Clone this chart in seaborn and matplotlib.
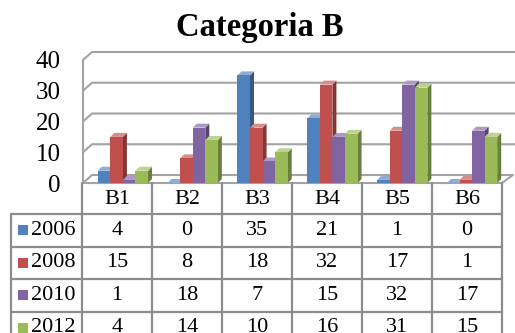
import numpy as np
import pandas as pd
import seaborn as sns
import matplotlib
matplotlib.use("Agg")
import matplotlib.pyplot as plt
from matplotlib.patches import Polygon
from matplotlib.transforms import IdentityTransform
import matplotlib.colors as mcolors

# ---- data ----
categories = ["B1", "B2", "B3", "B4", "B5", "B6"]
years = ["2006", "2008", "2010", "2012"]
v2006 = [4, 0, 35, 21, 1, 0]
v2008 = [15, 8, 18, 32, 17, 1]
v2010 = [1, 18, 7, 15, 32, 17]
v2012 = [4, 14, 10, 16, 31, 15]
series = [v2006, v2008, v2010, v2012]
colors = ["#4F81BD", "#C0504D", "#8064A2", "#9BBB59"]
yticks = [0, 10, 20, 30, 40]
title = "Categoria B"

df = pd.DataFrame({
    "categoria": np.tile(categories, len(years)),
    "anno": np.repeat(years, len(categories)),
    "valore": np.concatenate(series),
})

W, H = 515, 333
sns.set_theme(style="white")
plt.rcParams["font.family"] = ["Liberation Serif", "DejaVu Serif"]

fig = plt.figure(figsize=(W / 100, H / 100), dpi=100)

# overlay in pixel coordinates (origin top-left) for walls and table
bg = fig.add_axes([0, 0, 1, 1], zorder=0)
bg.set_xlim(0, W)
bg.set_ylim(H, 0)
bg.axis("off")

fx0, fx1 = 83, 502      # front plane, left/right
fy0, fy1 = 183, 60      # front plane, y of 0 and of the top value
ddx, ddy = 9, 8         # wall depth
ymax = yticks[-1]
grid_c = "#A3A3A3"
line_c = "#8C8C8C"


def py(v):
    return fy0 + (fy1 - fy0) * v / ymax


# side wall + back wall gridlines
for v in yticks:
    y = py(v)
    xe = fx1 + ddx + 2 if v == 0 else W
    bg.plot([fx0, fx0 + ddx, xe], [y, y - ddy, y - ddy], color=grid_c, lw=1.5,
            solid_capstyle="butt")
# floor front edge and right edge
bg.plot([fx0, fx1, fx1 + ddx + 2], [fy0, fy0, fy0 - ddy], color=grid_c, lw=1.5)
# vertical axis line
bg.plot([fx0, fx0], [py(0), py(ymax)], color=grid_c, lw=1.5)

# ---- bars ----
ax = fig.add_axes([fx0 / W, 1 - fy0 / H, (fx1 - fx0) / W, (fy0 - fy1) / H], zorder=1)
ax.patch.set_alpha(0)
sns.barplot(data=df, x="categoria", y="valore", hue="anno", hue_order=years,
            order=categories, palette=colors, saturation=1, width=0.72, gap=0,
            linewidth=0, legend=False, ax=ax)
shift = 5 / 70
ax.set_xlim(-0.5 - shift, len(categories) - 0.5 - shift)
ax.set_ylim(0, ymax)
ax.set_yticks(yticks)
ax.set_yticklabels([str(t) for t in yticks], fontsize=18, color="black",
                   family="Liberation Serif")
ax.tick_params(axis="y", length=0, pad=16)
ax.set_xticks([])
ax.set_xlabel("")
ax.set_ylabel("")
for s in ax.spines.values():
    s.set_visible(False)

# 3-D top and side faces built from each bar's geometry
bdx, bdy = 4, 4
for p in list(ax.patches):
    x, y, w, h = p.get_x(), p.get_y(), p.get_width(), p.get_height()
    (xl, yb), (xr, yt) = ax.transData.transform([(x, y), (x + w, y + h)])
    base = np.array(mcolors.to_rgb(p.get_facecolor()))
    top_c = base + (1 - base) * 0.35
    side_c = base * 0.68
    top = Polygon([(xl, yt), (xr, yt), (xr + bdx, yt + bdy), (xl + bdx, yt + bdy)],
                  closed=True, facecolor=top_c, edgecolor="none",
                  transform=IdentityTransform(), clip_on=False, zorder=0.8)
    side = Polygon([(xr, yb), (xr, yt), (xr + bdx, yt + bdy), (xr + bdx, yb + bdy)],
                   closed=True, facecolor=side_c, edgecolor="none",
                   transform=IdentityTransform(), clip_on=False, zorder=0.8)
    ax.add_artist(side)
    ax.add_artist(top)
    p.set_zorder(1)
    p.set_edgecolor("none")

# ---- data table ----
tx0 = 11
col_x = [82 + 70 * i for i in range(len(categories) + 1)]
row_y = [183, 214, 246.5, 279, 311.5, 344]
fs = 16
tf = dict(fontsize=fs, family="Liberation Serif", color="black")
for x in col_x:
    bg.plot([x, x], [row_y[0], H + 5], color=line_c, lw=1.6)
bg.plot([tx0, tx0], [row_y[1], H + 5], color=line_c, lw=1.6)
for y in row_y[1:]:
    bg.plot([tx0, col_x[-1]], [y, y], color=line_c, lw=1.6)

for i, c in enumerate(categories):
    bg.text((col_x[i] + col_x[i + 1]) / 2, (row_y[0] + row_y[1]) / 2 + 1, c,
            ha="center", va="center", **tf)
for r, (yr, vals, col) in enumerate(zip(years, series, colors)):
    yc = (row_y[r + 1] + row_y[r + 2]) / 2
    bg.add_patch(plt.Rectangle((18, yc - 5), 10, 10, facecolor=col, edgecolor="none"))
    bg.text(31, yc, yr, ha="left", va="center", **tf)
    for i, v in enumerate(vals):
        bg.text((col_x[i] + col_x[i + 1]) / 2, yc, str(v), ha="center",
                va="center", **tf)

fig.text(260 / W, 1 - 36 / H, title, ha="center", va="baseline",
         fontsize=23.5, fontweight="bold", family="Liberation Serif", color="black")

fig.savefig("out.png", dpi=100)
